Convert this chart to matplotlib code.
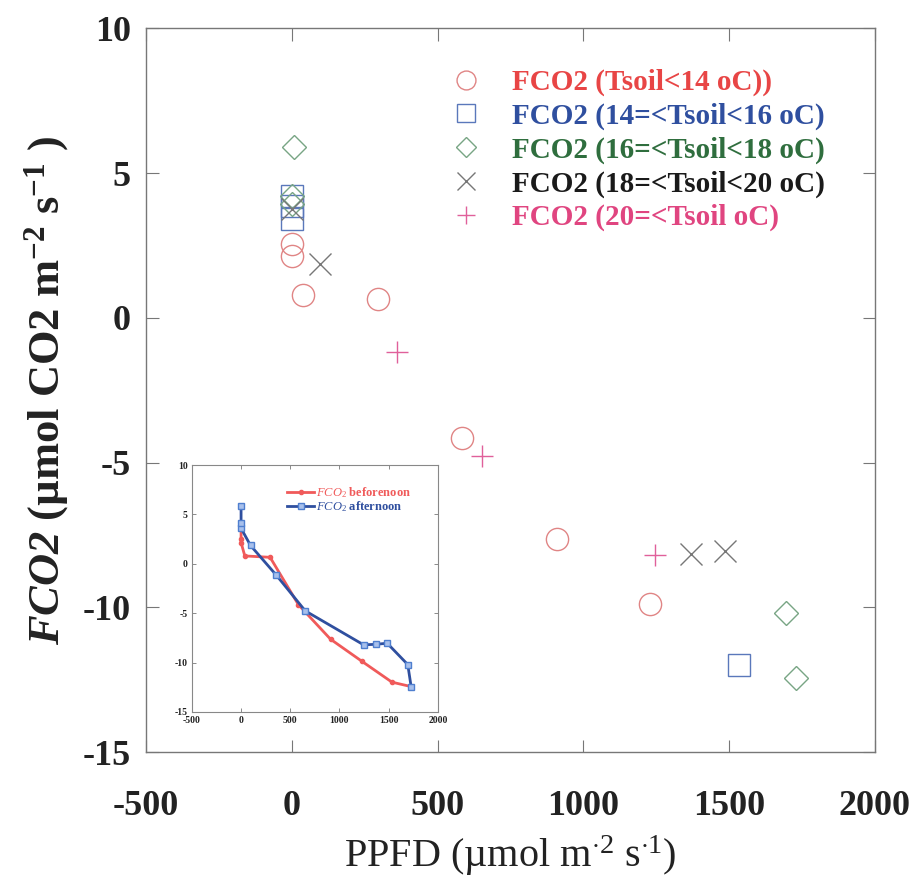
import matplotlib
matplotlib.use("Agg")
import matplotlib.pyplot as plt

# ---- data ----
circ_x = [0, 0, 38, 295, 583, 909, 1228]
circ_y = [2.55, 2.15, 0.8, 0.66, -4.14, -7.63, -9.87]
sq_x = [0, 0, 0, 1533]
sq_y = [4.2, 3.85, 3.4, -11.98]
dia_x = [7, 0, 0, 1694, 1728]
dia_y = [5.9, 4.2, 3.95, -10.2, -12.43]
x_x = [0, 96, 1368, 1485]
x_y = [3.75, 1.86, -8.15, -8.04]
plus_x = [360, 652, 1245]
plus_y = [-1.17, -4.76, -8.2]

labels = ["FCO2 (Tsoil<14 oC))", "FCO2 (14=<Tsoil<16 oC)", "FCO2 (16=<Tsoil<18 oC)",
          "FCO2 (18=<Tsoil<20 oC)", "FCO2 (20=<Tsoil oC)"]

# inset series
bn_x = [0, 0, 0, 38, 295, 583, 909, 1228, 1533, 1728]
bn_y = [3.9, 2.55, 2.15, 0.8, 0.66, -4.14, -7.63, -9.87, -11.98, -12.43]
an_x = [1728, 1694, 1485, 1368, 1245, 652, 360, 96, 0, 0, 0]
an_y = [-12.43, -10.2, -8.04, -8.15, -8.2, -4.76, -1.17, 1.86, 3.6, 4.1, 5.9]

xticks = [-500, 0, 500, 1000, 1500, 2000]
yticks = [-15, -10, -5, 0, 5, 10]

plt.rcParams['font.family'] = ['Liberation Serif', 'DejaVu Serif']
plt.rcParams['axes.unicode_minus'] = False
plt.rcParams['mathtext.fontset'] = 'custom'
plt.rcParams['mathtext.rm'] = 'Liberation Serif'
plt.rcParams['mathtext.bf'] = 'Liberation Serif:bold'
plt.rcParams['mathtext.it'] = 'Liberation Serif:italic'
plt.rcParams['mathtext.bfit'] = 'Liberation Serif:italic:bold'

fig = plt.figure(figsize=(9.18, 8.85), dpi=100)
ax = fig.add_axes([0.159, 0.150, 0.794, 0.818])

c_circ, c_sq, c_dia, c_x, c_plus = '#e08585', '#5a78bb', '#78a584', '#777777', '#e0609a'
t_colors = ['#e84545', '#2f4f9f', '#2f6e3e', '#1a1a1a', '#e04580']

ms = 16
h1, = ax.plot(circ_x, circ_y, 'o', mfc='none', mec=c_circ, ms=ms, mew=1.0, ls='none')
h2, = ax.plot(sq_x, sq_y, 's', mfc='none', mec=c_sq, ms=ms, mew=1.0, ls='none')
h3, = ax.plot(dia_x, dia_y, 'D', mfc='none', mec=c_dia, ms=ms*0.75, mew=1.0, ls='none')
h4, = ax.plot(x_x, x_y, 'x', color=c_x, ms=ms, mew=1.0, ls='none')
h5, = ax.plot(plus_x, plus_y, '+', color=c_plus, ms=ms, mew=1.0, ls='none')

ax.set_xlim(-500, 2000)
ax.set_ylim(-15, 10)
ax.set_xticks(xticks)
ax.set_yticks(yticks)
ax.tick_params(direction='in', length=9, width=0.8, colors='#777777', labelcolor='#222222',
               labelsize=26, top=True, right=True)
ax.tick_params(axis='x', pad=27)
ax.tick_params(axis='y', pad=11)
for lab in ax.get_xticklabels() + ax.get_yticklabels():
    lab.set_fontweight('bold')
for s in ax.spines.values():
    s.set_color('#777777')
    s.set_linewidth(1.0)

ax.set_xlabel(r'PPFD (µmol m$^{\cdot 2}$ s$^{\cdot 1}$)', fontsize=29, labelpad=8, color='#222222')
ax.set_ylabel(r'$\mathbfit{FCO2}$ (µmol CO2 m$^{\mathbf{-2}}$ s$^{\mathbf{-1}}$ )',
              fontsize=32, fontweight='bold', labelpad=8, color='#222222')

leg = ax.legend([h1, h2, h3, h4, h5], labels, loc='upper left', bbox_to_anchor=(0.403, 0.96),
                frameon=False, prop={'size': 21, 'weight': 'bold'}, handlelength=1.0,
                handletextpad=1.07, borderaxespad=0.0, labelspacing=0.22, markerscale=0.85)
for t, c in zip(leg.get_texts(), t_colors):
    t.set_color(c)

# inset
ax2 = fig.add_axes([0.209, 0.1955, 0.268, 0.279])
ax2.plot(bn_x, bn_y, '-o', color='#f05a5a', lw=2.0, ms=3, mfc='#f05a5a', mec='#f05a5a',
         label=r'$\it{FCO_2}$ beforenoon')
ax2.plot(an_x, an_y, '-s', color='#2f4f9f', lw=2.0, ms=5, mfc='#a8c0ec', mec='#4f7fcf',
         label=r'$\it{FCO_2}$ afternoon')
ax2.set_xlim(-500, 2000)
ax2.set_ylim(-15, 10)
ax2.set_xticks(xticks)
ax2.set_yticks(yticks)
ax2.tick_params(direction='in', length=3, width=0.6, colors='#777777', labelcolor='#222222',
                labelsize=7, pad=3, top=True, right=True)
for lab in ax2.get_xticklabels() + ax2.get_yticklabels():
    lab.set_fontweight('bold')
for s in ax2.spines.values():
    s.set_color('#888888')
    s.set_linewidth(0.8)
leg2 = ax2.legend(loc='upper left', bbox_to_anchor=(0.366, 0.94), frameon=False,
                  prop={'size': 9, 'weight': 'bold'}, handlelength=2.2, handletextpad=0.1,
                  labelspacing=0.0, borderaxespad=0.0)
for t, c in zip(leg2.get_texts(), ['#f05a5a', '#2f4f9f']):
    t.set_color(c)

fig.savefig('out.png', dpi=100)
